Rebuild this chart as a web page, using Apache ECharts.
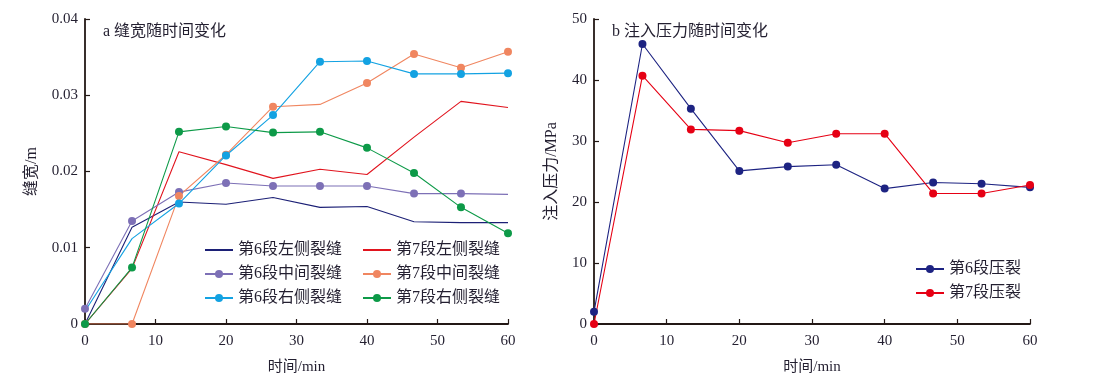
<!DOCTYPE html>
<html><head><meta charset="utf-8">
<script src="https://cdn.jsdelivr.net/npm/echarts@6/dist/echarts.min.js"></script>
<style>html,body{margin:0;padding:0;background:#fff}#c{width:1095px;height:380px}</style>
</head><body><div id="c"></div>
<script>
var times = [0, 6.67, 13.33, 20, 26.67, 33.33, 40, 46.67, 53.33, 60];
var s6Left  = [0, 0.0127, 0.0160, 0.0157, 0.0166, 0.0153, 0.0154, 0.0134, 0.0133, 0.0133];
var s7Left  = [0, 0.0073, 0.0226, 0.0209, 0.0191, 0.0203, 0.0196, 0.0245, 0.0292, 0.0284];
var s6Mid   = [0.0020, 0.0135, 0.0173, 0.0185, 0.0181, 0.0181, 0.0181, 0.0171, 0.0171, 0.0170];
var s7Mid   = [0, 0, 0.0168, 0.0222, 0.0285, 0.0288, 0.0316, 0.0354, 0.0336, 0.0357];
var s6Right = [0.0017, 0.0112, 0.0158, 0.0221, 0.0274, 0.0344, 0.0345, 0.0328, 0.0328, 0.0329];
var s7Right = [0, 0.0074, 0.0252, 0.0259, 0.0251, 0.0252, 0.0231, 0.0198, 0.0153, 0.0119];
var p6 = [2.0, 45.9, 35.3, 25.1, 25.8, 26.1, 22.2, 23.2, 23.0, 22.4];
var p7 = [0, 40.7, 31.9, 31.7, 29.7, 31.2, 31.2, 21.4, 21.4, 22.8];
var widthTicks = [0, 0.01, 0.02, 0.03, 0.04];

var FONT = 'Liberation Serif, Noto Sans CJK SC, serif';
var TXT = '#231f30';

function pts(vals, hide) {
  return vals.map(function (v, i) {
    var d = { value: [times[i], v] };
    if (hide && hide.indexOf(i) >= 0) d.symbol = 'none';
    return d;
  });
}
function mk(name, vals, color, xi, sym, hide) {
  return {
    name: name, type: 'line', xAxisIndex: xi, yAxisIndex: xi,
    data: pts(vals, hide), color: color,
    symbol: sym ? 'circle' : 'none', symbolSize: 8,
    lineStyle: { width: 1.1, color: color },
    itemStyle: { color: color },
    animation: false, z: 3
  };
}
function xAx(gi) {
  return {
    type: 'value', gridIndex: gi, min: 0, max: 60, interval: 10,
    name: '时间/min', nameLocation: 'middle', nameGap: 36,
    nameTextStyle: { fontFamily: FONT, fontSize: 15, color: TXT },
    axisLine: { onZero: false, lineStyle: { color: '#231815', width: 1.8 } },
    axisTick: { inside: true, length: 5, lineStyle: { color: '#231815', width: 1.2 } },
    axisLabel: { fontFamily: FONT, fontSize: 15, color: TXT, margin: 10 },
    splitLine: { show: false }
  };
}
var legTxt = { fontFamily: FONT, fontSize: 16, color: TXT };
var chart = echarts.init(document.getElementById('c'));
chart.setOption({
  backgroundColor: '#fff',
  animation: false,
  title: [
    { text: 'a 缝宽随时间变化', left: 103, top: 24, padding: 0, textStyle: { fontFamily: FONT, fontSize: 16, fontWeight: 'normal', color: TXT } },
    { text: 'b 注入压力随时间变化', left: 612, top: 24, padding: 0, textStyle: { fontFamily: FONT, fontSize: 16, fontWeight: 'normal', color: TXT } }
  ],
  grid: [
    { left: 85, right: 587, top: 19, bottom: 56 },
    { left: 594, right: 65, top: 19, bottom: 56 }
  ],
  xAxis: [xAx(0), xAx(1)],
  yAxis: [
    {
      type: 'value', gridIndex: 0, min: 0, max: 0.04, interval: 0.01,
      name: '缝宽/m', nameLocation: 'middle', nameGap: 45,
      nameTextStyle: { fontFamily: FONT, fontSize: 16, color: TXT },
      axisLine: { show: true, lineStyle: { color: '#231815', width: 1.8 } },
      axisTick: { show: true, inside: true, length: 5, lineStyle: { color: '#231815', width: 1.2 } },
      axisLabel: { fontFamily: FONT, fontSize: 15, color: TXT, margin: 7,
        formatter: function (v) { var t = widthTicks.filter(function (w) { return Math.abs(w - v) < 1e-9; }); return t.length ? String(t[0]) : ''; } },
      splitLine: { show: false }
    },
    {
      type: 'value', gridIndex: 1, min: 0, max: 50, interval: 10,
      name: '注入压力/MPa', nameLocation: 'middle', nameGap: 34,
      nameTextStyle: { fontFamily: FONT, fontSize: 16, color: TXT },
      axisLine: { show: true, lineStyle: { color: '#231815', width: 1.8 } },
      axisTick: { show: true, inside: true, length: 5, lineStyle: { color: '#231815', width: 1.2 } },
      axisLabel: { fontFamily: FONT, fontSize: 15, color: TXT, margin: 7 },
      splitLine: { show: false }
    }
  ],
  legend: [
    { orient: 'vertical', left: 204, top: 242, padding: 0, itemWidth: 28, itemHeight: 10, itemGap: 8, textStyle: legTxt,
      data: [{ name: '第6段左侧裂缝', itemStyle: { opacity: 0 } }, '第6段中间裂缝', '第6段右侧裂缝'] },
    { orient: 'vertical', left: 362, top: 242, padding: 0, itemWidth: 28, itemHeight: 10, itemGap: 8, textStyle: legTxt,
      data: [{ name: '第7段左侧裂缝', itemStyle: { opacity: 0 } }, '第7段中间裂缝', '第7段右侧裂缝'] },
    { orient: 'vertical', left: 915, top: 261, padding: 0, itemWidth: 28, itemHeight: 10, itemGap: 8, textStyle: legTxt,
      data: ['第6段压裂', '第7段压裂'] }
  ],
  series: [
    mk('第6段左侧裂缝', s6Left, '#1c2076', 0, false),
    mk('第7段左侧裂缝', s7Left, '#e1141e', 0, false),
    mk('第6段中间裂缝', s6Mid, '#7d70b6', 0, true, [9]),
    mk('第7段中间裂缝', s7Mid, '#f08660', 0, true, [5]),
    mk('第6段右侧裂缝', s6Right, '#13a2e2', 0, true, [0, 1]),
    mk('第7段右侧裂缝', s7Right, '#0d9a48', 0, true),
    mk('第6段压裂', p6, '#1d2382', 1, true),
    mk('第7段压裂', p7, '#e60014', 1, true)
  ]
});
</script></body></html>
